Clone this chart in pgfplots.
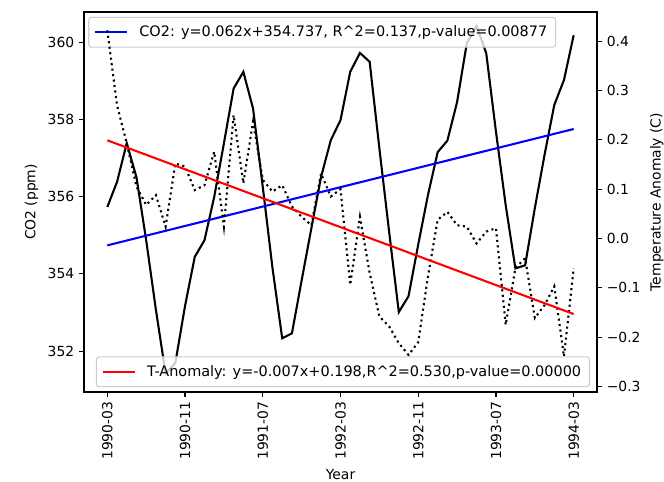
\documentclass[border=0pt]{standalone}
\usepackage{pgfplots}
\pgfplotsset{compat=1.18}
\usepackage{fontspec}
\setmainfont{DejaVu Sans}
\definecolor{legendgray}{gray}{0.8}
\pgfplotstableread{
i co2
0 355.73
1 356.38
2 357.38
3 356.50
4 354.87
5 353.07
6 351.42
7 351.69
8 353.17
9 354.44
10 354.87
11 355.99
12 357.38
13 358.80
14 359.23
15 358.28
16 356.25
17 354.15
18 352.33
19 352.46
20 353.83
21 355.18
22 356.51
23 357.46
24 357.98
25 359.23
26 359.72
27 359.49
28 357.25
29 355.10
30 353.01
31 353.42
32 354.76
33 356.04
34 357.15
35 357.45
36 358.45
37 359.97
38 360.42
39 359.71
40 357.68
41 355.78
42 354.14
43 354.22
44 355.70
45 357.08
46 358.37
47 359.02
48 360.18
}\coTwo
\pgfplotstableread{
i t
0 0.422
1 0.270
2 0.193
3 0.105
4 0.068
5 0.088
6 0.024
7 0.152
8 0.146
9 0.098
10 0.108
11 0.176
12 0.024
13 0.250
14 0.112
15 0.237
16 0.119
17 0.095
18 0.108
19 0.065
20 0.044
21 0.027
22 0.132
23 0.085
24 0.100
25 -0.094
26 0.044
27 -0.070
28 -0.158
29 -0.178
30 -0.212
31 -0.236
32 -0.210
33 -0.077
34 0.038
35 0.054
36 0.027
37 0.024
38 -0.010
39 0.014
40 0.021
41 -0.175
42 -0.060
43 -0.040
44 -0.161
45 -0.135
46 -0.097
47 -0.239
48 -0.060
}\tAnom
\begin{document}
\begin{tikzpicture}
\pgfplotsset{
  every axis/.append style={
    scale only axis, width=369.36pt, height=273.6pt,
    xmin=-2.4, xmax=50.4,
    font=\fontsize{10}{12}\selectfont,
    /pgf/number format/assume math mode=true,
    tick align=outside, major tick length=3.5pt,
    every tick/.style={black, line width=0.8pt},
    axis line style={line width=0.8pt},
    legend cell align=left,
    legend image code/.code={\draw[#1] (0pt,0pt) -- (23pt,0pt); \path (29pt,0pt);},
    legend style={font=\fontsize{10.4}{12.5}\selectfont, draw=legendgray, rounded corners=2pt,
      fill=white, fill opacity=0.8, text opacity=1, inner xsep=4pt, inner ysep=4pt,
      line width=0.8pt},
  },
}
\begin{axis}[
  xtick={0,8,16,24,32,40,48},
  xticklabels={1990-03,1990-11,1991-07,1992-03,1992-11,1993-07,1994-03},
  xticklabel style={rotate=90, anchor=east},
  xtick pos=bottom, ytick pos=left,
  ymin=350.94, ymax=360.78,
  ytick={352,354,356,358,360},
  xlabel={Year}, ylabel={CO2 (ppm)},
  legend style={at={(0,1)}, anchor=north west, xshift=3pt, yshift=-3.5pt},
]
\addplot[black, line width=1.5pt, forget plot] table[x=i, y=co2] {\coTwo};
\addplot[blue, line width=1.5pt] coordinates {(0,354.737) (48,357.75)};
\addlegendentry{CO2: y=0.062x+354.737, R\^{}2=0.137,p-value=0.00877}
\end{axis}
\begin{axis}[
  axis x line=none, axis y line*=right,
  ymin=-0.311, ymax=0.459,
  ytick={-0.3,-0.2,-0.1,0,0.1,0.2,0.3,0.4},
  yticklabels={−0.3,−0.2,−0.1,0.0,0.1,0.2,0.3,0.4},
  ylabel={Temperature Anomaly (C)},
  legend style={at={(1,0)}, anchor=south east, xshift=-5pt, yshift=3.5pt},
]
\addplot[black, line width=1.5pt, dash pattern=on 1.5pt off 2.475pt, forget plot] table[x=i, y=t] {\tAnom};
\addplot[red, line width=1.5pt] coordinates {(0,0.199) (48,-0.153)};
\addlegendentry{T-Anomaly: y=-0.007x+0.198,R\^{}2=0.530,p-value=0.00000}
\end{axis}
\pgfresetboundingbox
\path[use as bounding box] (-60.48pt,-64.08pt) rectangle (417.6pt,282.24pt);
\end{tikzpicture}
\end{document}
